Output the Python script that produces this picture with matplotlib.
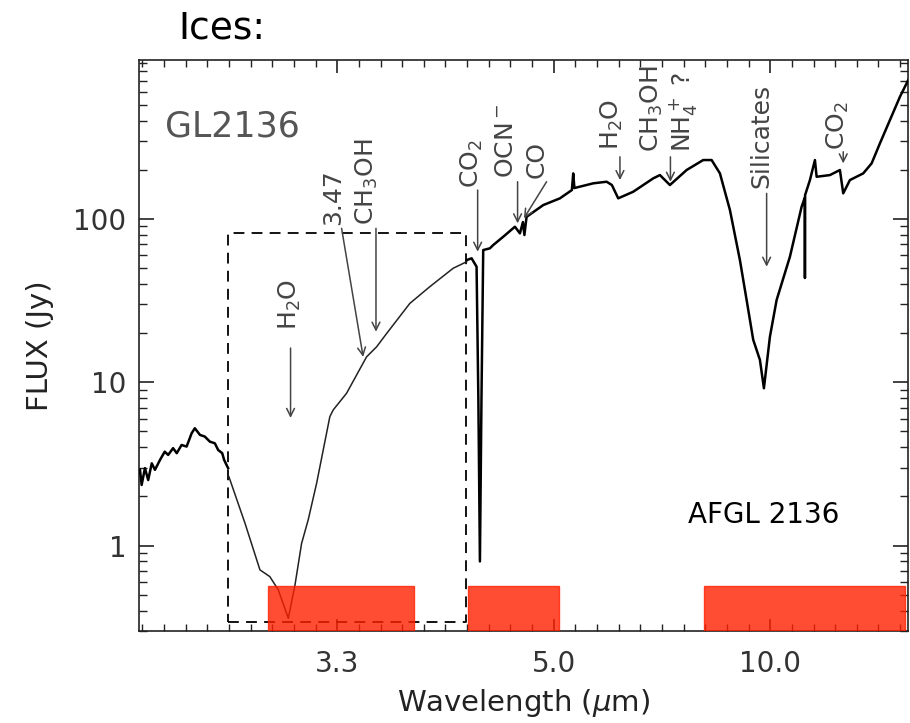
import matplotlib
matplotlib.use('Agg')
import matplotlib.pyplot as plt
from matplotlib.ticker import FixedLocator, FixedFormatter, NullFormatter, LogLocator

# ISO-SWS spectrum, short end (wavelength um, flux Jy)
iso_short_wave = [2.557, 2.562, 2.572, 2.582, 2.593, 2.603, 2.619, 2.634, 2.645, 2.661, 2.673, 2.689,
                  2.706, 2.723, 2.734, 2.752, 2.769, 2.787, 2.805, 2.817, 2.832, 2.839, 2.848, 2.854]
iso_short_flux = [2.91, 2.35, 2.98, 2.52, 3.19, 2.91, 3.35, 3.76, 3.59, 3.95, 3.68, 4.13,
                  4.04, 4.87, 5.23, 4.76, 4.65, 4.33, 4.23, 3.85, 3.68, 3.35, 3.12, 2.98]

# ground based 3 um spectrum (inside the dashed box)
lband_wave = [2.857, 2.919, 2.979, 3.020, 3.056, 3.100, 3.130, 3.160, 3.191, 3.231, 3.296, 3.313,
              3.382, 3.491, 3.549, 3.608, 3.753, 3.888, 4.058, 4.163]
lband_flux = [2.64, 1.37, 0.71, 0.646, 0.536, 0.359, 0.575, 1.03, 1.44, 2.41, 6.16, 6.77,
              8.56, 14.3, 16.5, 19.9, 30.4, 38.5, 49.9, 54.7]

# ISO-SWS spectrum, long part
iso_long_wave = [4.163, 4.203, 4.244, 4.259, 4.272, 4.285, 4.300, 4.358, 4.387, 4.478, 4.589, 4.638,
                 4.668, 4.683, 4.705, 4.882, 5.073, 5.219, 5.236, 5.251, 5.502, 5.696, 5.776, 5.875,
                 6.124, 6.492, 6.625, 6.834, 7.214, 7.636, 7.870, 8.115, 8.431, 8.772, 9.017, 9.272,
                 9.546, 9.717, 9.986, 10.305, 11.001, 11.696, 11.90, 11.909, 11.92, 12.246, 12.602,
                 12.728, 13.806, 14.747, 15.088, 15.825, 17.532, 18.811, 20.272, 22.366, 24.944, 27.58]
iso_long_flux = [56.0, 57.4, 51.0, 7.79, 0.80, 7.79, 64.5, 66.1, 69.2, 77.8, 89.6, 81.6,
                 95.7, 79.7, 103, 121.6, 133.7, 150.3, 190, 154.6, 165.2, 169.0, 161.3, 133.7,
                 146.7, 177.2, 185.6, 161.3, 199.3, 229.4, 229.4, 190.1, 113.4, 56.0, 31.9, 18.2,
                 13.7, 9.19, 19.0, 31.9, 58.7, 118.8, 135, 43.5, 140, 173.0, 229.4,
                 181.2, 185.6, 199.3, 143.4, 173.0, 190.1, 218.9, 290.2, 403, 559.7, 708]

# dashed box around the 3 um region
box_wave = [2.853, 4.157]
box_flux = [0.341, 82.0]

# red wavelength bands
band_lo = [3.012, 4.173, 7.656]
band_hi = [3.780, 5.061, 26.47]

# feature labels: text, text x, text bottom, arrow tail (x, y), arrow tip (x, y)
feat_text = ['H$_2$O', '3.47', 'CH$_3$OH', 'CO$_2$', 'OCN$^-$', 'CO', 'H$_2$O', 'CH$_3$OH',
             'NH$_4^+$ ?', 'Silicates', 'CO$_2$']
feat_tx = [3.107, 3.315, 3.493, 4.2015, 4.508, 4.813, 5.772, 6.467, 7.127, 9.588, 14.50]
feat_ty = [20.9, 91.8, 91.8, 154.6, 178, 178, 264, 256.7, 256.7, 154.6, 264]
arrow_x0 = [3.110, 3.356, 3.545, 4.253, 4.615, 4.919, 5.903, 6.845, None, 9.837, 15.088]
arrow_y0 = [16.2, 87.6, 87.6, 150.3, 169, 169, 240, 240, None, 143.4, 257.8]
arrow_x1 = [3.110, 3.472, 3.545, 4.253, 4.615, 4.678, 5.903, 6.845, None, 9.837, 15.088]
arrow_y1 = [6.05, 14.3, 20.4, 63.0, 94.0, 100.9, 173, 169, None, 51.0, 218.9]

xticks = [1 / 0.3, 5.0, 10.0]
xticklabels = ['3.3', '5.0', '10.0']
yticks = [1, 10, 100]
yticklabels = ['1', '10', '100']

fig = plt.figure(figsize=(9.1, 7.23), dpi=100)
ax = fig.add_axes([0.15275, 0.12725, 0.84505, 0.78976])

# x axis is linear in wavenumber
ax.set_xscale('function', functions=(lambda x: -1.0 / x, lambda y: -1.0 / y))
ax.set_yscale('log')
ax.set_xlim(2.554, 27.5)
ax.set_ylim(0.30, 940)

for lo, hi in zip(band_lo, band_hi):
    ax.axvspan(lo, hi, ymin=0, ymax=0.079, facecolor='#FF2000', alpha=0.8,
               edgecolor='#FF2000', lw=1, zorder=5)

ax.plot(iso_short_wave, iso_short_flux, color='black', lw=1.8, zorder=3)
ax.plot(lband_wave, lband_flux, color='#222222', lw=1.1, zorder=3)
ax.plot(iso_long_wave, iso_long_flux, color='black', lw=1.8, zorder=3)

ax.plot([box_wave[0], box_wave[1], box_wave[1], box_wave[0], box_wave[0]],
        [box_flux[0], box_flux[0], box_flux[1], box_flux[1], box_flux[0]],
        color='black', lw=1.3, ls=(0, (6, 4)), zorder=2)

for i in range(len(feat_text)):
    ax.text(feat_tx[i], feat_ty[i], feat_text[i], rotation=90, ha='center', va='bottom',
            fontsize=18, color='#444444')
    if arrow_x0[i] is not None:
        ax.annotate('', xy=(arrow_x1[i], arrow_y1[i]), xytext=(arrow_x0[i], arrow_y0[i]),
                    arrowprops=dict(arrowstyle='->', color='#444444', lw=1.1,
                                    shrinkA=0, shrinkB=0, mutation_scale=14))

ax.text(0.034, 0.883, 'GL2136', transform=ax.transAxes, fontsize=25, color='#555555',
        ha='left', va='center')
ax.text(0.714, 0.189, 'AFGL 2136', transform=ax.transAxes, fontsize=20, color='black',
        ha='left', va='baseline')

ax.xaxis.set_major_locator(FixedLocator(xticks))
ax.xaxis.set_major_formatter(FixedFormatter(xticklabels))
ax.xaxis.set_minor_locator(FixedLocator([100.0 / k for k in range(4, 40) if k % 10 != 0]))
ax.xaxis.set_minor_formatter(NullFormatter())
ax.yaxis.set_major_locator(FixedLocator(yticks))
ax.yaxis.set_major_formatter(FixedFormatter(yticklabels))
ax.yaxis.set_minor_locator(LogLocator(base=10, subs=range(2, 10)))
ax.yaxis.set_minor_formatter(NullFormatter())

ax.tick_params(axis='both', which='both', direction='in', top=True, right=True,
               colors='#222222', labelcolor='#333333', labelsize=20)
ax.tick_params(axis='x', which='major', length=9, width=1.2, pad=14)
ax.tick_params(axis='x', which='minor', length=5, width=1.0)
ax.tick_params(axis='y', which='major', length=11, width=1.2, pad=9)
ax.tick_params(axis='y', which='minor', length=6, width=1.0)
for s in ax.spines.values():
    s.set_color('#222222')
    s.set_linewidth(1.2)

ax.set_xlabel(r'Wavelength ($\mu$m)', fontsize=21, color='#222222', labelpad=6)
ax.set_ylabel('FLUX (Jy)', fontsize=21, color='#222222', labelpad=14)

fig.text(0.1956, 0.9474, 'Ices:', fontsize=27, color='black', ha='left', va='baseline')

fig.savefig('out.png', dpi=100)
